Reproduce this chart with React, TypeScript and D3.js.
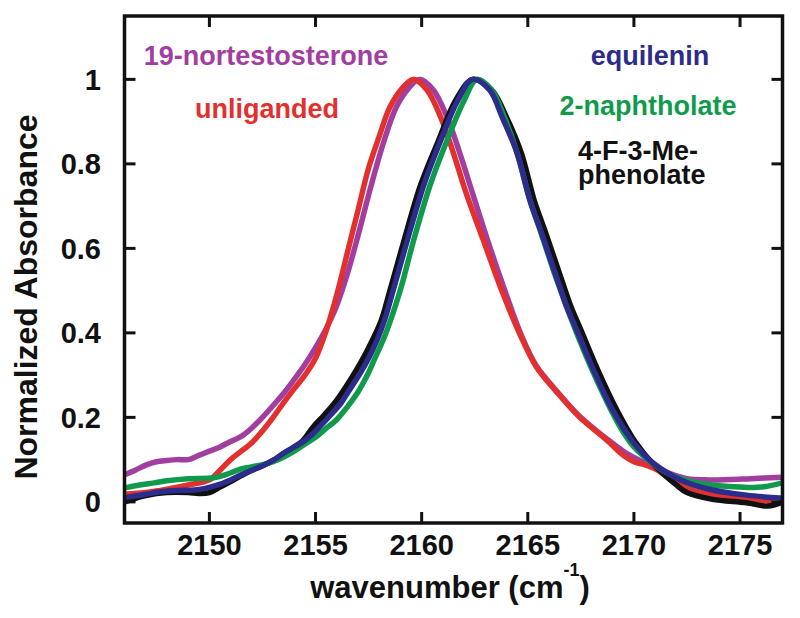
import React from "react";
import * as d3 from "d3";

// ---- data ----
const xTicks = [2150, 2155, 2160, 2165, 2170, 2175];
const yTicks = [0, 0.2, 0.4, 0.6, 0.8, 1];
const yTickLabels = ["0", "0.2", "0.4", "0.6", "0.8", "1"];

const purpleX = [2146, 2146.5, 2147, 2147.5, 2148, 2148.5, 2149, 2149.5, 2150, 2150.5, 2151, 2151.5, 2152, 2152.5, 2153, 2153.5, 2154, 2154.5, 2155, 2155.5, 2156, 2156.5, 2157, 2157.6, 2158.2, 2158.8, 2159.4, 2159.9, 2160.55, 2161.2, 2161.8, 2162.4, 2163.1, 2163.85, 2164.65, 2165.4, 2166.4, 2167.45, 2168.7, 2169.5, 2170, 2170.6, 2171.2, 2171.8, 2172.5, 2173.5, 2174.5, 2175.5, 2177];
const purpleY = [0.064, 0.075, 0.087, 0.095, 0.098, 0.1, 0.1, 0.11, 0.12, 0.13, 0.143, 0.155, 0.175, 0.2, 0.228, 0.257, 0.29, 0.325, 0.365, 0.41, 0.465, 0.54, 0.63, 0.745, 0.85, 0.934, 0.98, 1.0, 0.975, 0.91, 0.825, 0.73, 0.62, 0.51, 0.4, 0.322, 0.26, 0.202, 0.15, 0.12, 0.105, 0.09, 0.078, 0.065, 0.055, 0.052, 0.053, 0.055, 0.058];

const redX = [2146, 2147, 2148, 2149, 2150, 2150.5, 2151, 2151.5, 2152, 2152.5, 2153, 2153.5, 2154, 2154.5, 2155, 2155.5, 2156, 2156.5, 2157, 2157.5, 2158, 2158.5, 2159.1, 2159.6, 2160.25, 2160.9, 2161.5, 2162.1, 2162.9, 2163.7, 2164.6, 2165.4, 2166.4, 2167.45, 2168.7, 2169.5, 2170, 2170.5, 2171, 2171.5, 2172, 2172.5, 2173, 2174, 2175, 2176.4];
const redY = [0.018, 0.022, 0.03, 0.04, 0.052, 0.075, 0.1, 0.12, 0.14, 0.168, 0.2, 0.235, 0.268, 0.3, 0.34, 0.405, 0.49, 0.59, 0.69, 0.79, 0.865, 0.934, 0.98, 1.0, 0.975, 0.91, 0.825, 0.73, 0.62, 0.51, 0.4, 0.32, 0.258, 0.2, 0.147, 0.11, 0.095, 0.088, 0.078, 0.062, 0.045, 0.033, 0.024, 0.015, 0.008, 0.002];

const blackX = [2146, 2146.5, 2147, 2148, 2149, 2149.5, 2150, 2150.5, 2151, 2151.5, 2152, 2152.4, 2153, 2153.5, 2154, 2154.4, 2154.9, 2155.4, 2155.9, 2156.4, 2156.9, 2157.3, 2157.7, 2158.1, 2158.45, 2159.15, 2159.95, 2160.8, 2161.6, 2162.4, 2163.3, 2164, 2164.7, 2165.3, 2165.8, 2166.6, 2167.05, 2167.5, 2168.3, 2169.2, 2170.1, 2170.9, 2172, 2172.5, 2173.7, 2175.3, 2176.3, 2177];
const blackY = [0.0, 0.008, 0.015, 0.022, 0.022, 0.02, 0.022, 0.035, 0.048, 0.062, 0.075, 0.083, 0.098, 0.115, 0.13, 0.145, 0.178, 0.205, 0.234, 0.27, 0.31, 0.345, 0.385, 0.43, 0.49, 0.615, 0.75, 0.856, 0.95, 1.0, 0.975, 0.91, 0.825, 0.714, 0.643, 0.525, 0.46, 0.407, 0.312, 0.217, 0.139, 0.09, 0.04, 0.022, 0.006, -0.002, -0.01, 0.0];

const greenX = [2146, 2146.5, 2147.4, 2148, 2149, 2150.2, 2150.8, 2151.5, 2152.4, 2153, 2153.5, 2154, 2154.6, 2155, 2155.4, 2156, 2156.5, 2157, 2157.4, 2157.8, 2158.2, 2158.5, 2158.8, 2159.1, 2159.6, 2160.4, 2161.2, 2162, 2162.6, 2163.3, 2163.9, 2164.5, 2165.1, 2165.6, 2166.4, 2167.3, 2168.1, 2169, 2169.5, 2170, 2170.9, 2171.5, 2172.2, 2173, 2174, 2175, 2176, 2177];
const greenY = [0.033, 0.038, 0.045, 0.05, 0.055, 0.057, 0.065, 0.078, 0.087, 0.095, 0.106, 0.12, 0.14, 0.153, 0.17, 0.195, 0.225, 0.26, 0.296, 0.34, 0.385, 0.425, 0.47, 0.52, 0.615, 0.75, 0.856, 0.95, 1.0, 0.975, 0.91, 0.825, 0.714, 0.64, 0.52, 0.4, 0.305, 0.21, 0.165, 0.13, 0.09, 0.07, 0.055, 0.045, 0.038, 0.035, 0.035, 0.045];

const blueX = [2146, 2146.5, 2147, 2147.7, 2148.5, 2149.3, 2149.8, 2150.4, 2151, 2151.5, 2152, 2152.4, 2153, 2153.5, 2154, 2154.4, 2154.8, 2155.2, 2155.7, 2156.2, 2156.6, 2157.1, 2157.5, 2157.9, 2158.25, 2158.6, 2159.3, 2160.1, 2160.9, 2161.7, 2162.4, 2163.2, 2163.8, 2164.5, 2165.1, 2165.6, 2166.4, 2166.85, 2167.3, 2168.1, 2169, 2170, 2170.9, 2172.2, 2173.7, 2175.3, 2176.9];
const blueY = [0.01, 0.014, 0.018, 0.024, 0.027, 0.028, 0.032, 0.04, 0.052, 0.064, 0.075, 0.083, 0.098, 0.115, 0.13, 0.142, 0.158, 0.178, 0.205, 0.234, 0.265, 0.304, 0.34, 0.383, 0.43, 0.49, 0.615, 0.75, 0.856, 0.95, 1.0, 0.975, 0.91, 0.825, 0.714, 0.643, 0.525, 0.46, 0.407, 0.312, 0.217, 0.139, 0.092, 0.052, 0.028, 0.016, 0.009];

const seriesNames = ["19-nortestosterone", "unliganded", "4-F-3-Me-phenolate", "2-naphtholate", "equilenin"];
const seriesColors = ["#a23e9f", "#e2302f", "#111111", "#109a4c", "#2c2c8c"];

// ---- layout ----
const W = 800;
const H = 618;
const left = 124.5;
const right = 782.5;
const top = 16;
const bottom = 523;
const FONT = "'Liberation Sans', Arial, Helvetica, sans-serif";

export default function App() {
  const x = d3.scaleLinear().domain([2146, 2177]).range([left, right]);
  const y = d3.scaleLinear().domain([-0.05, 1.15]).range([bottom, top]);

  const xs = [purpleX, redX, blackX, greenX, blueX];
  const ys = [purpleY, redY, blackY, greenY, blueY];

  const line = d3
    .line<[number, number]>()
    .x((d) => x(d[0]))
    .y((d) => y(d[1]))
    .curve(d3.curveCatmullRom.alpha(0.5));

  const tickLen = 11;

  return (
    <svg
      width={W}
      height={H}
      style={{ position: "absolute", left: 0, top: 0, background: "#fff" }}
      fontFamily={FONT}
      fontWeight="bold"
    >
      <defs>
        <clipPath id="plotclip">
          <rect x={left} y={top} width={right - left} height={bottom - top} />
        </clipPath>
      </defs>
      <rect x={0} y={0} width={W} height={H} fill="#fff" />

      <g clipPath="url(#plotclip)">
        {seriesNames.map((n, i) => {
          const pts = xs[i].map((v, j) => [v, ys[i][j]] as [number, number]);
          return (
            <path
              key={n}
              d={line(pts) || ""}
              fill="none"
              stroke={seriesColors[i]}
              strokeWidth={5.5}
              strokeLinejoin="round"
              strokeLinecap="round"
            />
          );
        })}
      </g>

      {/* ticks */}
      {xTicks.map((t) => (
        <g key={"xt" + t}>
          <line x1={x(t)} x2={x(t)} y1={bottom} y2={bottom - tickLen} stroke="#111" strokeWidth={3} />
          <line x1={x(t)} x2={x(t)} y1={top} y2={top + tickLen} stroke="#111" strokeWidth={3} />
          <text x={x(t)} y={555} textAnchor="middle" fontSize={29} fill="#111">
            {t}
          </text>
        </g>
      ))}
      {yTicks.map((t, i) => (
        <g key={"yt" + t}>
          <line x1={left} x2={left + tickLen} y1={y(t)} y2={y(t)} stroke="#111" strokeWidth={3} />
          <line x1={right} x2={right - tickLen} y1={y(t)} y2={y(t)} stroke="#111" strokeWidth={3} />
          <text x={101} y={y(t)} dy="0.36em" textAnchor="end" fontSize={29} fill="#111">
            {yTickLabels[i]}
          </text>
        </g>
      ))}

      {/* frame */}
      <rect x={left} y={top} width={right - left} height={bottom - top} fill="none" stroke="#111" strokeWidth={3.5} />

      {/* axis labels */}
      <text x={450} y={598} textAnchor="middle" fontSize={31} fill="#111">
        wavenumber (cm
        <tspan fontSize={18} dy={-22}>-1</tspan>
        <tspan dy={22}>)</tspan>
      </text>
      <text
        transform="translate(37,297) rotate(-90)"
        textAnchor="middle"
        fontSize={32}
        fill="#111"
      >
        Normalized Absorbance
      </text>

      {/* series labels */}
      <text x={266} y={65} textAnchor="middle" fontSize={27} fill={seriesColors[0]}>
        {seriesNames[0]}
      </text>
      <text x={267} y={118} textAnchor="middle" fontSize={27} fill={seriesColors[1]}>
        {seriesNames[1]}
      </text>
      <text x={650} y={65} textAnchor="middle" fontSize={27} fill={seriesColors[4]}>
        {seriesNames[4]}
      </text>
      <text x={648} y={115} textAnchor="middle" fontSize={27} fill={seriesColors[3]}>
        {seriesNames[3]}
      </text>
      <text x={578} y={160} textAnchor="start" fontSize={27} fill={seriesColors[2]}>
        4-F-3-Me-
      </text>
      <text x={578} y={184} textAnchor="start" fontSize={27} fill={seriesColors[2]}>
        phenolate
      </text>
    </svg>
  );
}
